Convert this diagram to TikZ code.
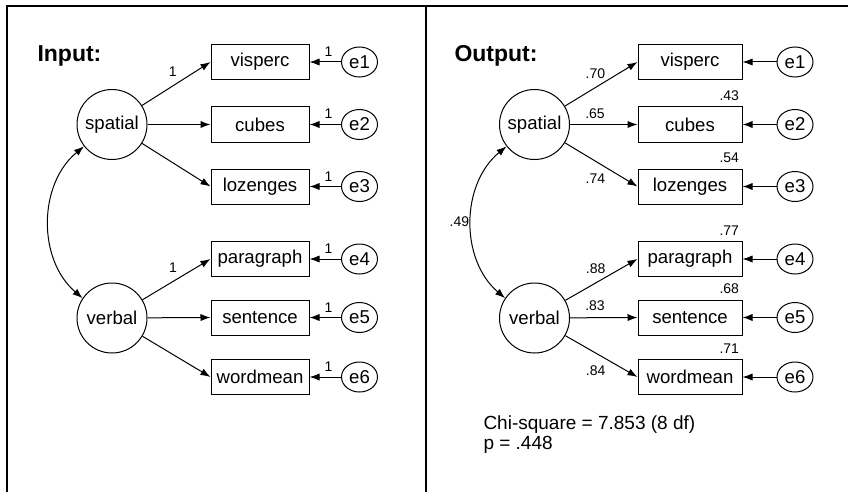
\documentclass[tikz,border=0pt]{standalone}
\usepackage{fontspec}
\setmainfont{Liberation Sans}
\usetikzlibrary{shapes.geometric,arrows.meta}
\tikzset{
  latent/.style={draw,circle,minimum size=35pt,inner sep=0pt,font=\fontsize{9.3}{11}\selectfont},
  obs/.style={draw,rectangle,minimum height=17.5pt,inner sep=0pt,font=\fontsize{9.3}{11}\selectfont},
  err/.style={draw,ellipse,minimum width=18pt,minimum height=15pt,inner sep=0pt,font=\fontsize{9.3}{11}\selectfont},
  coef/.style={font=\fontsize{7}{8}\selectfont,inner sep=1pt},
  rsq/.style={coef,anchor=south east,xshift=-0.5pt,yshift=1.5pt},
  frame/.style={line width=1pt},
  title/.style={font=\bfseries\fontsize{11.5}{13}\selectfont,anchor=base west,inner sep=0pt}
}
\newcommand{\latentvar}[4]{\node[latent] (#1) at (#2,#3) {#4};}
\newcommand{\obsvar}[5]{\node[obs,minimum width=#5pt] (#1) at (#2,#3) {#4};}
\newcommand{\obsrsq}[5]{\node[obs,minimum width=52pt,label={[rsq]north east:#5}] (#1) at (#2,#3) {#4};}
\newcommand{\errnode}[4]{\node[err] (#1) at (#2,#3) {#4};}
\newcommand{\link}[2]{\draw[->] (#1) -- (#2.west);}
\newcommand{\load}[4]{\draw[->] (#1) -- node[coef,#4] {#3} (#2.west);}
\newcommand{\errlink}[3]{\draw[->] (#1) -- node[coef,pos=.4,above=1.5pt] {#3} (#2.east);}
\newcommand{\errarrow}[2]{\draw[->] (#1) -- (#2.east);}

\begin{document}
\begin{tikzpicture}[x=0.5pt,y=-0.5pt,line width=0.5pt,>={Latex[length=5pt,width=3.6pt]}]
    \useasboundingbox (0,0) rectangle (850,492);
    \draw[frame] (7,492) -- (7,6) -- (848,6);
    \draw[frame] (426,6) -- (426,492);

    % input model
    \node[title] (inTitle) at (37,62) {Input:};
    \latentvar{spatialL}{112}{124.5}{spatial}   \latentvar{verbalL}{112}{318}{verbal}
    \obsvar{viscL}{260}{62}{visperc}{49}       \errnode{e1L}{359.5}{62}{e1}
    \obsvar{cubeL}{260}{124.5}{cubes}{49}      \errnode{e2L}{359.5}{124.5}{e2}
    \obsvar{lozL}{260}{186.5}{lozenges}{49}    \errnode{e3L}{359.5}{186.5}{e3}
    \obsvar{paraL}{260}{259}{paragraph}{49}    \errnode{e4L}{359.5}{259}{e4}
    \obsvar{sentL}{260}{317.5}{sentence}{49}   \errnode{e5L}{359.5}{317.5}{e5}
    \obsvar{wordL}{260}{377}{wordmean}{49}     \errnode{e6L}{359.5}{377}{e6}
    \load{spatialL}{viscL}{1}{pos=.45,above=3.6pt}\link{spatialL}{cubeL}\link{spatialL}{lozL}
    \load{verbalL}{paraL}{1}{pos=.45,above=3pt}\link{verbalL}{sentL}\link{verbalL}{wordL}
    \errlink{e1L}{viscL}{1}\errlink{e2L}{cubeL}{1}\errlink{e3L}{lozL}{1}
    \errlink{e4L}{paraL}{1}\errlink{e5L}{sentL}{1}\errlink{e6L}{wordL}{1}
    \draw[<->] (spatialL.218) to[bend right=50] (verbalL.146);

    % output model
    \node[title] (outTitle) at (454,62) {Output:};
    \latentvar{spatialR}{534.5}{124.5}{spatial}  \latentvar{verbalR}{534.5}{318}{verbal}
    \obsvar{viscR}{690}{62}{visperc}{52}         \errnode{e1R}{795}{62}{e1}
    \obsrsq{cubeR}{690}{124.5}{cubes}{.43}       \errnode{e2R}{795}{124.5}{e2}
    \obsrsq{lozR}{690}{186.5}{lozenges}{.54}     \errnode{e3R}{795}{186.5}{e3}
    \obsrsq{paraR}{690}{259}{paragraph}{.77}     \errnode{e4R}{795}{259}{e4}
    \obsrsq{sentR}{690}{317.5}{sentence}{.68}    \errnode{e5R}{795}{317.5}{e5}
    \obsrsq{wordR}{690}{377}{wordmean}{.71}      \errnode{e6R}{795}{377}{e6}
    \load{spatialR}{viscR}{.70}{pos=.42,above=3.2pt}
    \load{spatialR}{cubeR}{.65}{pos=.37,above=1.7pt}
    \load{spatialR}{lozR}{.74}{pos=.42,below=5.2pt}
    \load{verbalR}{paraR}{.88}{pos=.42,above=3.6pt}
    \load{verbalR}{sentR}{.83}{pos=.37,above=2.1pt}
    \load{verbalR}{wordR}{.84}{pos=.42,below=5pt}
    \errarrow{e1R}{viscR}\errarrow{e2R}{cubeR}\errarrow{e3R}{lozR}
    \errarrow{e4R}{paraR}\errarrow{e5R}{sentR}\errarrow{e6R}{wordR}
    \draw[<->] (spatialR.218) to[bend right=50] node[coef,left] {.49} (verbalR.146);
    \node[anchor=north west,inner sep=0pt,align=left,font=\fontsize{9.5}{10}\selectfont] (chisq) at (483,415)
        {Chi-square = 7.853 (8 df)\\p = .448};
\end{tikzpicture}
\end{document}
